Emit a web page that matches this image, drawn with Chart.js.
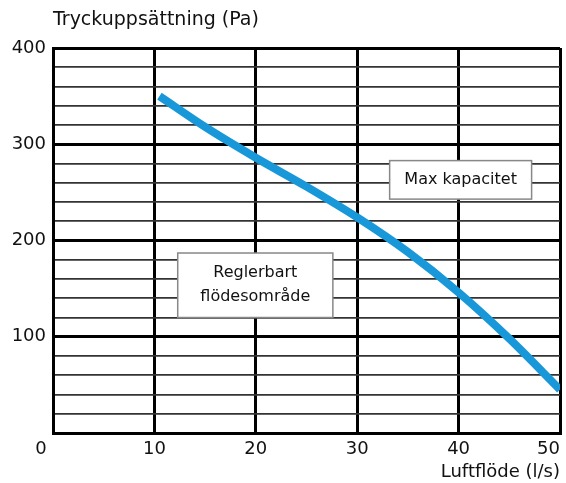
<!DOCTYPE html>
<html lang="sv">
<head>
<meta charset="utf-8">
<script src="https://cdn.jsdelivr.net/npm/chart.js@4/dist/chart.umd.min.js"></script>
<style>
  html, body { margin: 0; padding: 0; background: #fff; }
  #wrap { width: 566px; height: 483px; }
</style>
</head>
<body>
<div id="wrap"><canvas id="chart"></canvas></div>
<script>
// Luftflöde (l/s) och tryckuppsättning (Pa) längs kurvan
const flowValues     = [10.5, 15, 20, 25, 30, 35, 40, 45, 50];
const pressureValues = [350, 318, 286, 256, 224, 188, 146, 98, 45];

const xTicks = [0, 10, 20, 30, 40, 50];
const yTicks = [0, 100, 200, 300, 400];

const yTitle = 'Tryckuppsättning (Pa)';
const xTitle = 'Luftflöde (l/s)';

// rutor med text, i dataenheter
const notes = [
  { lines: ['Max kapacitet'], x0: 33.2, x1: 47.2, y0: 243, y1: 283 },
  { lines: ['Reglerbart', 'flödesområde'], x0: 12.3, x1: 27.6, y0: 120, y1: 187 },
];

const FONT = '"DejaVu Sans", sans-serif';
const INK = '#111';

const labelsPlugin = {
  id: 'labels',
  afterDatasetsDraw(chart) {
    const { ctx, chartArea, scales: { x, y } } = chart;
    ctx.save();
    // y-axelns titel ovanför diagrammet
    ctx.fillStyle = INK;
    ctx.font = `19px ${FONT}`;
    ctx.textAlign = 'left';
    ctx.textBaseline = 'middle';
    ctx.fillText(yTitle, chartArea.left, 20);

    // nollan i hörnet
    ctx.font = `18px ${FONT}`;
    ctx.textAlign = 'center';
    ctx.fillText('0', chartArea.left - 12, chartArea.bottom + 16);

    // textrutor
    notes.forEach(n => {
      const l = x.getPixelForValue(n.x0), r = x.getPixelForValue(n.x1);
      const t = y.getPixelForValue(n.y1), b = y.getPixelForValue(n.y0);
      ctx.fillStyle = '#fff';
      ctx.fillRect(l, t, r - l, b - t);
      ctx.strokeStyle = '#888';
      ctx.lineWidth = 1.5;
      ctx.strokeRect(l, t, r - l, b - t);
      ctx.fillStyle = INK;
      ctx.font = `16px ${FONT}`;
      const lh = 24;
      const cy = (t + b) / 2 - (n.lines.length - 1) * lh / 2;
      n.lines.forEach((s, i) => ctx.fillText(s, (l + r) / 2, cy + i * lh));
    });
    ctx.restore();
  }
};

new Chart(document.getElementById('chart'), {
  type: 'line',
  data: {
    datasets: [{
      data: flowValues.map((v, i) => ({ x: v, y: pressureValues[i] })),
      borderColor: '#1898d8',
      borderWidth: 8,
      borderCapStyle: 'butt',
      pointRadius: 0,
      cubicInterpolationMode: 'monotone',
      fill: false,
    }]
  },
  options: {
    responsive: true,
    maintainAspectRatio: false,
    animation: false,
    layout: { padding: { top: 48, right: 6, left: 0, bottom: 0 } },
    plugins: { legend: { display: false }, tooltip: { enabled: false } },
    scales: {
      x: {
        type: 'linear',
        min: 0, max: 50,
        afterBuildTicks: s => { s.ticks = xTicks.map(v => ({ value: v })); },
        afterFit: s => { s.height = 50; },
        border: { color: '#000', width: 3 },
        grid: {
          color: '#000',
          lineWidth: 3,
          drawTicks: false,
        },
        ticks: {
          align: 'inner',
          padding: 6,
          color: INK,
          font: { family: FONT, size: 18 },
          callback: v => v === 0 ? '' : v,
        },
        title: {
          display: true,
          text: xTitle,
          align: 'end',
          color: INK,
          font: { family: FONT, size: 18 },
          padding: { top: 0, bottom: 0 },
        },
      },
      y: {
        type: 'linear',
        min: 0, max: 400,
        ticks: {
          stepSize: 20,
          autoSkip: false,
          padding: 7,
          color: INK,
          font: { family: FONT, size: 18 },
          callback: v => yTicks.includes(v) && v !== 0 ? v : '',
        },
        afterFit: s => { s.width = 53; },
        border: { color: '#000', width: 3 },
        grid: {
          drawTicks: false,
          color: ctx => ctx.tick.value % 100 === 0 ? '#000' : '#333',
          lineWidth: ctx => ctx.tick.value % 100 === 0 ? 3 : 1.8,
        },
      },
    },
  },
  plugins: [labelsPlugin],
});
</script>
</body>
</html>
